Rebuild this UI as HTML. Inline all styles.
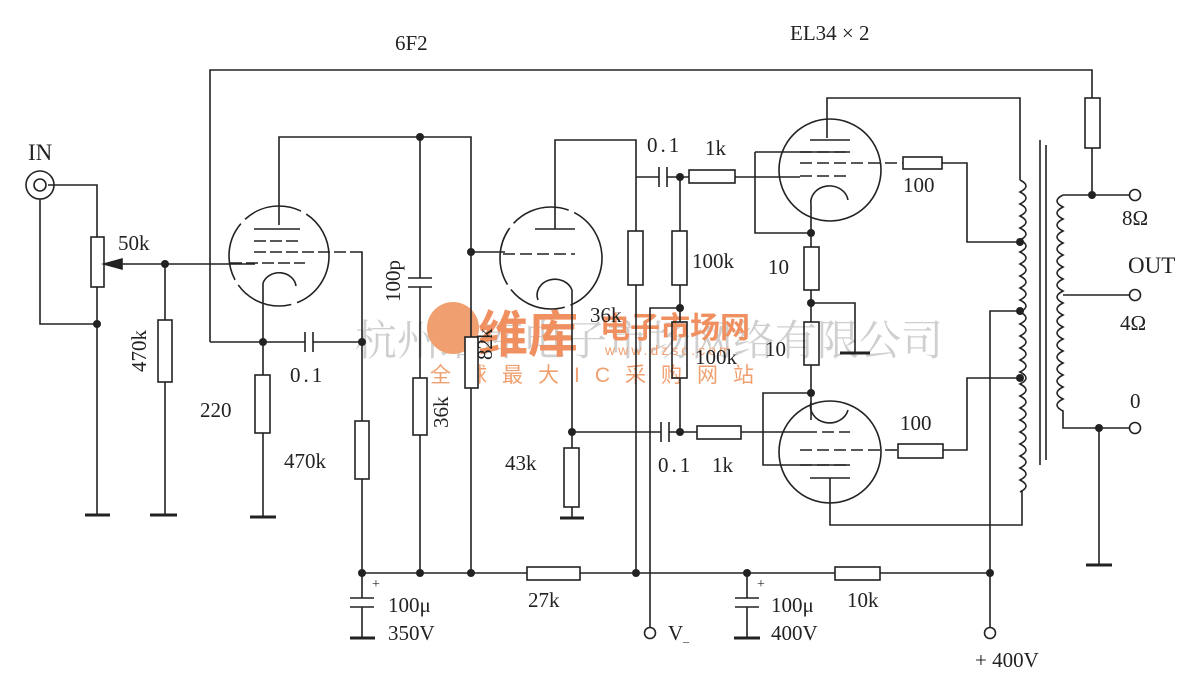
<!DOCTYPE html>
<html><head><meta charset="utf-8"><style>
html,body{margin:0;padding:0;background:#fff;}
svg{display:block}
text{font-family:"Liberation Serif",serif;fill:#222;font-size:21px}
.w{font-family:"Liberation Sans","Noto Sans CJK SC",sans-serif}
</style></head><body>
<svg width="1200" height="684" viewBox="0 0 1200 684" xmlns="http://www.w3.org/2000/svg">
<rect width="1200" height="684" fill="#fff"/>
<!-- watermark -->
<text x="355" y="355" class="w" style="font-size:42px;fill:#cfcfcf;font-family:'Noto Serif CJK SC',serif">杭州维库电子市场网络有限公司</text>
<circle cx="453" cy="328" r="26" fill="#f0a070"/>
<text x="478" y="352" class="w" style="font-size:50px;font-weight:bold;fill:#f09060">维库</text>
<text x="600" y="338" class="w" style="font-size:30px;font-weight:bold;fill:#f09060">电子市场网</text>
<text x="605" y="355" class="w" style="font-size:14px;fill:#f0a070;letter-spacing:3px">www.dzsc.com</text>
<text x="430" y="382" class="w" style="font-size:21px;fill:#f0a070;letter-spacing:15px">全球最大IC采购网站</text>

<g stroke="#222" stroke-width="1.6" fill="none">
<!-- feedback -->
<polyline points="210,342 210,70 1092,70 1092,98"/>
<rect x="1085" y="98" width="15" height="50"/>
<line x1="1092" y1="148" x2="1092" y2="195"/>
<!-- input -->
<circle cx="40" cy="185" r="14"/><circle cx="40" cy="185" r="6"/>
<polyline points="48,185 97,185 97,237"/>
<polyline points="40,199 40,324 97,324"/>
<rect x="91" y="237" width="13" height="50"/>
<polyline points="97,287 97,515"/>
<line x1="85" y1="515" x2="110" y2="515" stroke-width="3"/>
<line x1="104" y1="264" x2="255" y2="264"/>
<polygon points="104,264 122,259 122,269" fill="#222"/>
<line x1="165" y1="264" x2="165" y2="320"/>
<rect x="158" y="320" width="14" height="62"/>
<line x1="165" y1="382" x2="165" y2="515"/>
<line x1="150" y1="515" x2="177" y2="515" stroke-width="3"/>
<!-- tube1 -->
<circle cx="279" cy="256" r="50" stroke-dasharray="60 6"/>
<polyline points="279,225 279,137 471,137 471,573"/>
<line x1="254" y1="229" x2="300" y2="229"/>
<line x1="254" y1="241" x2="300" y2="241" stroke-dasharray="12 4"/>
<line x1="254" y1="252" x2="360" y2="252" stroke-dasharray="12 4"/>
<line x1="230" y1="263" x2="305" y2="263" stroke-dasharray="12 4"/>
<path d="M263,283 A17,15 0 0 1 296,286"/>
<line x1="263" y1="283" x2="263" y2="375"/>
<rect x="255" y="375" width="15" height="58"/>
<line x1="263" y1="433" x2="263" y2="517"/>
<line x1="250" y1="517" x2="276" y2="517" stroke-width="3"/>
<polyline points="210,342 305,342"/>
<line x1="305" y1="332" x2="305" y2="352"/><line x1="313" y1="332" x2="313" y2="352"/>
<polyline points="313,342 362,342"/>
<polyline points="360,252 362,252 362,421"/>
<rect x="355" y="421" width="14" height="58"/>
<line x1="362" y1="479" x2="362" y2="598"/>
<!-- 100p -->
<line x1="420" y1="137" x2="420" y2="278"/>
<line x1="408" y1="278" x2="432" y2="278"/><line x1="408" y1="287" x2="432" y2="287"/>
<line x1="420" y1="287" x2="420" y2="378"/>
<rect x="413" y="378" width="14" height="57"/>
<line x1="420" y1="435" x2="420" y2="573"/>
<rect x="465" y="337" width="13" height="51" fill="#fff"/>
<line x1="471" y1="252" x2="505" y2="252"/>
<!-- tube2 -->
<circle cx="551" cy="258" r="51" stroke-dasharray="60 6"/>
<polyline points="555,229 555,140 636,140 636,573"/>
<line x1="535" y1="229" x2="575" y2="229"/>
<line x1="503" y1="254" x2="575" y2="254" stroke-dasharray="12 5"/>
<path d="M538,300 A17,15 0 0 1 572,290"/>
<line x1="572" y1="290" x2="572" y2="448"/>
<rect x="564" y="448" width="15" height="59"/>
<line x1="572" y1="507" x2="572" y2="518"/>
<line x1="560" y1="518" x2="584" y2="518" stroke-width="3"/>
<rect x="628" y="231" width="15" height="54" fill="#fff"/>
<!-- coupling upper -->
<line x1="636" y1="177" x2="659" y2="177"/>
<line x1="659" y1="167" x2="659" y2="187"/><line x1="667" y1="167" x2="667" y2="187"/>
<line x1="667" y1="177" x2="689" y2="177"/>
<rect x="689" y="170" width="46" height="13"/>
<line x1="735" y1="177" x2="800" y2="177"/>
<line x1="680" y1="177" x2="680" y2="231"/>
<rect x="672" y="231" width="15" height="54"/>
<line x1="680" y1="285" x2="680" y2="322"/>
<rect x="672" y="322" width="15" height="56"/>
<line x1="680" y1="378" x2="680" y2="432"/>
<polyline points="680,308 650,308 650,627"/>
<circle cx="650" cy="633" r="5.5"/>
<!-- coupling lower -->
<line x1="572" y1="432" x2="661" y2="432"/>
<line x1="661" y1="422" x2="661" y2="442"/><line x1="669" y1="422" x2="669" y2="442"/>
<line x1="669" y1="432" x2="697" y2="432"/>
<rect x="697" y="426" width="44" height="13"/>
<line x1="741" y1="432" x2="805" y2="432"/>
<!-- tube3 -->
<circle cx="830" cy="170" r="51"/>
<polyline points="827,138 827,98 1020,98 1020,180"/>
<line x1="810" y1="140" x2="850" y2="140"/>
<polyline points="755,152 850,152" stroke-dasharray="0 0"/>
<line x1="800" y1="152" x2="850" y2="152" stroke-dasharray="12 5"/>
<line x1="800" y1="163" x2="903" y2="163" stroke-dasharray="12 5"/>
<line x1="800" y1="176" x2="850" y2="176" stroke-dasharray="12 5"/>
<rect x="903" y="157" width="39" height="12"/>
<polyline points="942,163 967,163 967,242 1020,242"/>
<polyline points="755,152 755,233 811,233"/>
<path d="M811,205 A18,16 0 0 1 848,200"/>
<line x1="811" y1="205" x2="811" y2="247"/>
<rect x="804" y="247" width="15" height="43"/>
<line x1="811" y1="290" x2="811" y2="322"/>
<polyline points="811,303 855,303 855,353"/>
<line x1="840" y1="353" x2="870" y2="353" stroke-width="3"/>
<rect x="804" y="322" width="15" height="43"/>
<line x1="811" y1="365" x2="811" y2="420"/>
<!-- tube4 -->
<circle cx="830" cy="452" r="51"/>
<polyline points="811,393 763,393 763,465 850,465"/>
<path d="M811,402 A18,16 0 0 0 848,410"/>
<line x1="805" y1="432" x2="850" y2="432" stroke-dasharray="12 5"/>
<line x1="800" y1="450" x2="898" y2="450" stroke-dasharray="12 5"/>
<line x1="800" y1="465" x2="850" y2="465" stroke-dasharray="12 5"/>
<line x1="810" y1="478" x2="850" y2="478"/>
<rect x="898" y="444" width="45" height="14"/>
<polyline points="943,450 967,450 967,378 1020,378"/>
<polyline points="830,478 830,525 1022,525 1022,490"/>
<!-- primary coil -->
<path d="M1020,180 q12,6 0,12 q12,6 0,12 q12,6 0,12 q12,6 0,12 q12,6 0,12 q12,6 0,12 q12,6 0,12 q12,6 0,12 q12,6 0,12 q12,6 0,12 q12,6 0,12 q12,6 0,12 q12,6 0,12 q12,6 0,12 q12,6 0,12 q12,6 0,12 q12,6 0,12 q12,6 0,12 q12,6 0,12 q12,6 0,12 q12,6 0,12 q12,6 0,12 q12,6 0,12 q12,6 0,12 q12,6 0,12 q12,6 0,12"/>
<polyline points="1020,311 990,311 990,627"/>
<circle cx="990" cy="633" r="5.5"/>
<line x1="1040" y1="140" x2="1040" y2="465"/>
<line x1="1046" y1="145" x2="1046" y2="460"/>
<!-- secondary -->
<polyline points="1063,195 1130,195"/>
<path d="M1063,195 q-12,6 0,12 q-12,6 0,12 q-12,6 0,12 q-12,6 0,12 q-12,6 0,12 q-12,6 0,12 q-12,6 0,12 q-12,6 0,12 q-12,6 0,12 q-12,6 0,12 q-12,6 0,12 q-12,6 0,12 q-12,6 0,12 q-12,6 0,12 q-12,6 0,12 q-12,6 0,12 q-12,6 0,12 q-12,6 0,12 L1063,428 L1130,428"/>
<line x1="1063" y1="295" x2="1130" y2="295"/>
<circle cx="1135" cy="195" r="5.5"/><circle cx="1135" cy="295" r="5.5"/><circle cx="1135" cy="428" r="5.5"/>
<line x1="1099" y1="428" x2="1099" y2="565"/>
<line x1="1086" y1="565" x2="1112" y2="565" stroke-width="3"/>
<!-- bus -->
<line x1="362" y1="573" x2="527" y2="573"/>
<rect x="527" y="567" width="53" height="13"/>
<line x1="580" y1="573" x2="835" y2="573"/>
<rect x="835" y="567" width="45" height="13"/>
<line x1="880" y1="573" x2="990" y2="573"/>
<line x1="350" y1="598" x2="374" y2="598"/><line x1="350" y1="607" x2="374" y2="607"/>
<line x1="362" y1="607" x2="362" y2="638"/>
<line x1="350" y1="638" x2="375" y2="638" stroke-width="3"/>
<line x1="747" y1="573" x2="747" y2="598"/>
<line x1="735" y1="598" x2="759" y2="598"/><line x1="735" y1="607" x2="759" y2="607"/>
<line x1="747" y1="607" x2="747" y2="638"/>
<line x1="734" y1="638" x2="760" y2="638" stroke-width="3"/>
</g>
<g fill="#222">
<circle cx="97" cy="324" r="4"/><circle cx="165" cy="264" r="4"/><circle cx="263" cy="342" r="4"/>
<circle cx="362" cy="342" r="4"/><circle cx="420" cy="137" r="4"/><circle cx="471" cy="252" r="4"/>
<circle cx="572" cy="432" r="4"/><circle cx="680" cy="177" r="4"/><circle cx="680" cy="308" r="4"/>
<circle cx="680" cy="432" r="4"/><circle cx="811" cy="233" r="4"/><circle cx="811" cy="303" r="4"/>
<circle cx="811" cy="393" r="4"/><circle cx="1020" cy="242" r="4"/><circle cx="1020" cy="311" r="4"/>
<circle cx="1020" cy="378" r="4"/><circle cx="1092" cy="195" r="4"/><circle cx="1099" cy="428" r="4"/>
<circle cx="362" cy="573" r="4"/><circle cx="420" cy="573" r="4"/><circle cx="471" cy="573" r="4"/>
<circle cx="636" cy="573" r="4"/><circle cx="747" cy="573" r="4"/><circle cx="990" cy="573" r="4"/>
</g>
<!-- labels -->
<text x="395" y="50">6F2</text>
<text x="790" y="40">EL34 × 2</text>
<text x="28" y="160" style="font-size:23px">IN</text>
<text x="118" y="250">50k</text>
<text transform="translate(146,372) rotate(-90)">470k</text>
<text transform="translate(400,302) rotate(-90)">100p</text>
<text x="290" y="382" style="letter-spacing:3px">0.1</text>
<text x="200" y="417">220</text>
<text x="284" y="468">470k</text>
<text transform="translate(448,428) rotate(-90)">36k</text>
<text transform="translate(492,360) rotate(-90)">82k</text>
<text x="590" y="322">36k</text>
<text x="505" y="470">43k</text>
<text x="647" y="152" style="letter-spacing:3px">0.1</text>
<text x="705" y="155">1k</text>
<text x="692" y="268">100k</text>
<text x="768" y="274">10</text>
<text x="695" y="364">100k</text>
<text x="765" y="356">10</text>
<text x="658" y="472" style="letter-spacing:3px">0.1</text>
<text x="712" y="472">1k</text>
<text x="903" y="192">100</text>
<text x="900" y="430">100</text>
<text x="1122" y="225">8Ω</text>
<text x="1128" y="273" style="font-size:23px">OUT</text>
<text x="1120" y="330">4Ω</text>
<text x="1130" y="408">0</text>
<text x="372" y="588" style="font-size:14px">+</text>
<text x="388" y="612">100μ</text>
<text x="388" y="640">350V</text>
<text x="528" y="607">27k</text>
<text x="757" y="588" style="font-size:14px">+</text>
<text x="771" y="612">100μ</text>
<text x="771" y="640">400V</text>
<text x="847" y="607">10k</text>
<text x="668" y="640">V</text><text x="683" y="645" style="font-size:12px">–</text>
<text x="975" y="667">+ 400V</text>
</svg>
</body></html>
